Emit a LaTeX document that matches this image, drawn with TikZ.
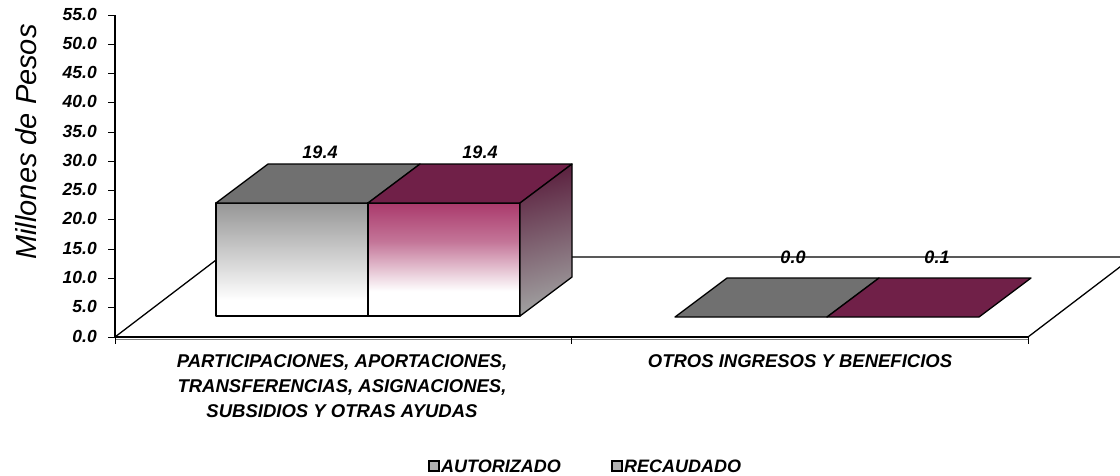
\documentclass[tikz,border=0pt]{standalone}
\usepackage{fontspec}
\setmainfont{Liberation Sans}
\definecolor{gtop}{RGB}{112,112,112}
\definecolor{mtop}{RGB}{112,32,72}
\definecolor{gfront}{RGB}{150,150,150}
\definecolor{mfront}{RGB}{170,58,108}
\definecolor{mside}{RGB}{92,34,64}
\definecolor{sidegray}{RGB}{160,160,160}
\pgfdeclareverticalshading{grayfrontsh}{100bp}{color(0bp)=(white); color(25bp)=(white); color(32bp)=(white); color(75bp)=(gfront); color(100bp)=(gfront)}
\pgfdeclareverticalshading{maroonfrontsh}{100bp}{color(0bp)=(white); color(25bp)=(white); color(36bp)=(white); color(58bp)=(mfront!70!white); color(75bp)=(mfront); color(100bp)=(mfront)}
\tikzset{
  edge/.style={draw=black, line width=1.3pt, line join=round},
  ticklab/.style={anchor=east, font=\fontsize{17.5}{20}\selectfont\bfseries\itshape, inner sep=0pt},
  vallab/.style={font=\fontsize{18}{20}\selectfont\bfseries\itshape, inner sep=0pt},
  catlab/.style={font=\fontsize{18.5}{25}\selectfont\bfseries\itshape, align=center, inner sep=0pt},
  leglab/.style={font=\fontsize{18}{20}\selectfont\bfseries\itshape, inner sep=0pt, anchor=west},
  legbox/.style={draw=black, line width=1.2pt, fill=gray!60, minimum width=10pt, minimum height=10pt, inner sep=0pt},
}
\begin{document}
\begin{tikzpicture}[x=1pt,y=-1pt]
\useasboundingbox (0,0) rectangle (1120,475);
\begin{scope}
\clip (0,0) rectangle (1120,475);
% floor
\coordinate (fl) at (115,337);
\coordinate (fr) at (1028,337);
\coordinate (bl) at (220,257);
\coordinate (br) at (1133,257);
\draw[edge] (fl) -- (bl) -- (br) -- (fr);
\draw[gray, line width=1.6pt] (115,339.5) -- (1028,339.5);
\draw[edge] (fl) -- (fr);
\end{scope}
% y axis
\coordinate (ytop) at (115,15);
\draw[edge] (fl) -- (ytop);
\foreach \i/\lab in {0/0.0,1/5.0,2/10.0,3/15.0,4/20.0,5/25.0,6/30.0,7/35.0,8/40.0,9/45.0,10/50.0,11/55.0}{
  \draw[line width=1pt] (108,337-\i*29.27) -- (115,337-\i*29.27);
  \node[ticklab] (t\i) at (97,336-\i*29.27) {\lab};
}
% category ticks
\foreach \x/\n in {115/a,571/b,1028/c}{
  \draw[line width=1pt] (\x,337) -- (\x,344);
}
\node[rotate=90, font=\fontsize{29}{32}\selectfont\itshape, inner sep=0pt] (ytitle) at (26,142) {Millones de Pesos};
% bar group 1 gray
\shade[shading=grayfrontsh] (216,316) rectangle (368,203);
\draw[edge] (216,316) rectangle (368,203);
\draw[edge, fill=gtop] (216,203) -- (368,203) -- (420,164) -- (268,164) -- cycle;
% bar group 1 maroon
\shade[shading=maroonfrontsh] (368,316) rectangle (520,203);
\draw[edge] (368,316) rectangle (520,203);
\draw[edge, fill=mtop] (368,203) -- (520,203) -- (572,164) -- (420,164) -- cycle;
\shade[top color=mside, bottom color=sidegray, shading angle=15] (520,316) -- (520,203) -- (572,164) -- (572,277) -- cycle;
\draw[edge] (520,316) -- (520,203) -- (572,164) -- (572,277) -- cycle;
% bar group 2 (flat)
\draw[edge, fill=gtop] (675,317) -- (827,317) -- (879,278) -- (727,278) -- cycle;
\draw[edge, fill=mtop] (827,317) -- (979,317) -- (1031,278) -- (879,278) -- cycle;
% value labels
\node[vallab] (v1) at (320,152) {19.4};
\node[vallab] (v2) at (480,152) {19.4};
\node[vallab] (v3) at (793,257) {0.0};
\node[vallab] (v4) at (937,257) {0.1};
% category labels
\node[catlab] (c1) at (342,386) {PARTICIPACIONES, APORTACIONES,\\TRANSFERENCIAS, ASIGNACIONES,\\SUBSIDIOS Y OTRAS AYUDAS};
\node[catlab] (c2) at (800,361) {OTROS INGRESOS Y BENEFICIOS};
% legend
\node[legbox] (lb1) at (434,466) {};
\node[leglab] (ll1) at (441,466) {AUTORIZADO};
\node[legbox] (lb2) at (617,466) {};
\node[leglab] (ll2) at (624,466) {RECAUDADO};
\end{tikzpicture}
\end{document}
